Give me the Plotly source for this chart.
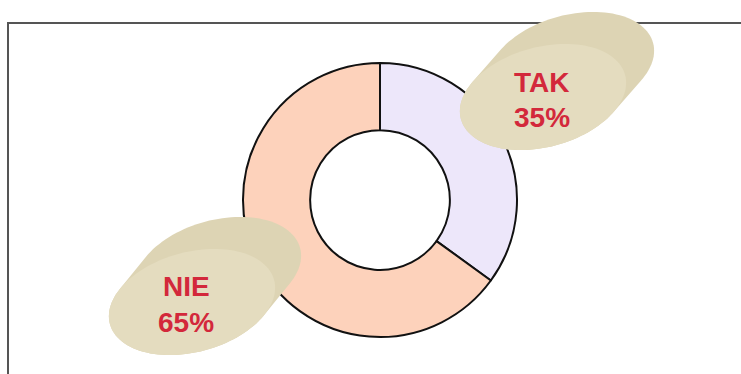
import numpy as np
import plotly.graph_objects as go

# Survey answers
labels = ["TAK", "NIE"]
values = [35, 65]
slice_colors = ["#ede7fa", "#fdd2bb"]

W, H = 741, 374


def ellipse_pts(cx, cy, a, b, rot_deg, n=120):
    t = np.linspace(0, 2 * np.pi, n, endpoint=False)
    r = np.deg2rad(rot_deg)
    x = cx + a * np.cos(t) * np.cos(r) - b * np.sin(t) * np.sin(r)
    y = cy + a * np.cos(t) * np.sin(r) + b * np.sin(t) * np.cos(r)
    return np.column_stack([x, y])


def hull(points):
    pts = sorted(map(tuple, points))
    def cross(o, a, b):
        return (a[0] - o[0]) * (b[1] - o[1]) - (a[1] - o[1]) * (b[0] - o[0])
    lower, upper = [], []
    for p in pts:
        while len(lower) >= 2 and cross(lower[-2], lower[-1], p) <= 0:
            lower.pop()
        lower.append(p)
    for p in reversed(pts):
        while len(upper) >= 2 and cross(upper[-2], upper[-1], p) <= 0:
            upper.pop()
        upper.append(p)
    return lower[:-1] + upper[:-1]


def to_path(pts):
    return "M " + " L ".join(f"{x:.1f},{y:.1f}" for x, y in pts) + " Z"


def cylinder(cx, cy, dx, dy, a=85, b=50, rot=-15):
    """Oblique beige disc: extruded body plus a lighter front face."""
    front = ellipse_pts(cx, cy, a, b, rot)
    back = ellipse_pts(cx + dx, cy + dy, a, b, rot)
    body = hull(np.vstack([front, back]))
    return [
        dict(type="path", path=to_path(body), fillcolor="#ddd4b4",
             line=dict(width=0), layer="above"),
        dict(type="path", path=to_path(front), fillcolor="#e4dcbf",
             line=dict(width=0), layer="above"),
    ]


fig = go.Figure()

fig.add_trace(go.Pie(
    labels=labels,
    values=values,
    hole=0.51,
    sort=False,
    direction="clockwise",
    rotation=0,
    textinfo="none",
    marker=dict(colors=slice_colors, line=dict(color="#111111", width=2)),
    domain=dict(x=[243 / W, 517 / W], y=[(H - 337) / H, (H - 63) / H]),
    showlegend=False,
    hoverinfo="label+percent",
))

shapes = [
    dict(type="path", path="M 8,374 L 8,23 L 741,23",
         line=dict(color="#555555", width=2), layer="below"),
]
shapes += cylinder(543, 97, 28, -32)
shapes += cylinder(192, 302, 26, -32)

red = "#d3283b"
font = dict(family="Liberation Sans, Arial, sans-serif", size=28, color=red)
pct = [f"{v}%" for v in values]
annotations = [
    dict(x=541, y=82, text=f"<b>{labels[0]}</b>"),
    dict(x=542, y=117, text=f"<b>{pct[0]}</b>"),
    dict(x=186, y=286, text=f"<b>{labels[1]}</b>"),
    dict(x=186, y=322, text=f"<b>{pct[1]}</b>"),
]
for an in annotations:
    an.update(xref="x", yref="y", showarrow=False, font=font,
              xanchor="center", yanchor="middle")

fig.update_layout(
    width=W, height=H,
    margin=dict(l=0, r=0, t=0, b=0),
    paper_bgcolor="white", plot_bgcolor="rgba(0,0,0,0)",
    xaxis=dict(range=[0, W], visible=False, fixedrange=True),
    yaxis=dict(range=[H, 0], visible=False, fixedrange=True),
    shapes=shapes,
    annotations=annotations,
)

fig.write_html("out.html", config=dict(displayModeBar=False))
